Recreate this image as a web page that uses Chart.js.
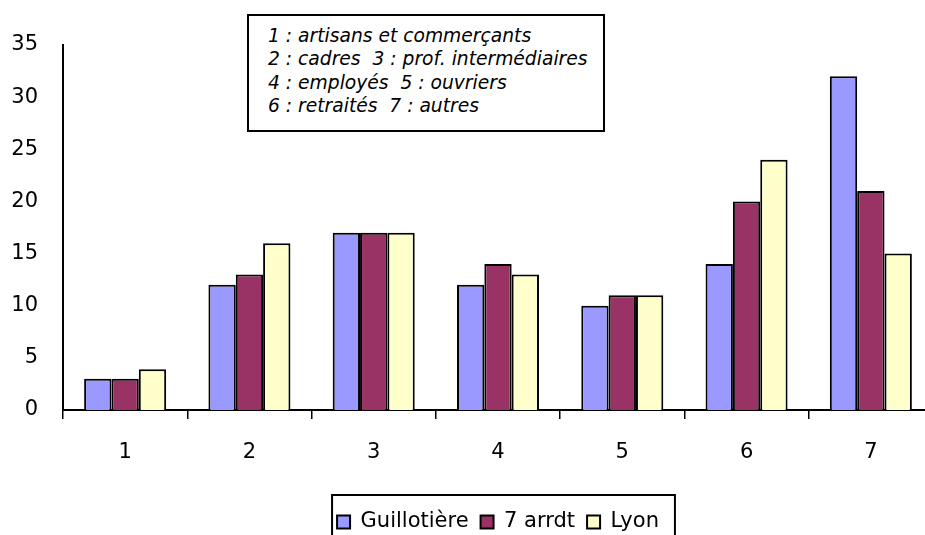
<!DOCTYPE html>
<html lang="fr">
<head>
<meta charset="utf-8">
<title>Catégories socio-professionnelles</title>
<script src="https://cdn.jsdelivr.net/npm/chart.js@4.4.1/dist/chart.umd.min.js"></script>
<style>
  html, body { margin: 0; padding: 0; background: #fff; }
  #cadre { position: relative; width: 925px; height: 535px; overflow: hidden; }
  #graphique { position: absolute; left: 0; top: 0; }
  #note {
    position: absolute; left: 247px; top: 14px; width: 358px; height: 118px;
    box-sizing: border-box; border: 2px solid #000; background: #fff;
    padding: 8.2px 0 0 19px;
    font: italic 18.7px "DejaVu Sans", sans-serif; line-height: 23.3px;
    white-space: pre; color: #000;
  }
</style>
</head>
<body>
<div id="cadre">
  <canvas id="graphique" width="935" height="545"></canvas>
  <div id="note"></div>
</div>
<script>
// ===== DONNÉES =====
const categories = ['1', '2', '3', '4', '5', '6', '7'];
const guillotiere = [3, 12, 17, 12, 10, 14, 32];
const septiemeArrdt = [3, 13, 17, 14, 11, 20, 21];
const lyon = [3.9, 16, 17, 13, 11, 24, 15];
const seriesNoms = ['Guillotière', '7 arrdt', 'Lyon'];
const lignesNote = [
  '1 : artisans et commerçants',
  '2 : cadres  3 : prof. intermédiaires',
  '4 : employés  5 : ouvriers',
  '6 : retraités  7 : autres'
];

// ===== STYLES =====
const COULEURS = ['#9999FF', '#993366', '#FFFFCC'];
const POLICE = '"DejaVu Sans", sans-serif';

document.getElementById('note').textContent = lignesNote.join('\n');

// cadre noir autour de la légende (comme dans Excel)
const cadreLegende = {
  id: 'cadreLegende',
  afterDraw(chart) {
    const leg = chart.legend;
    const boites = leg.legendHitBoxes;
    if (!boites || !boites.length) return;
    const premiere = boites[0];
    const derniere = boites[boites.length - 1];
    const x0 = premiere.left - 5;
    const x1 = derniere.left + derniere.width + 16;
    const y0 = leg.top - 4.5;
    const ctx = chart.ctx;
    ctx.save();
    ctx.strokeStyle = '#000';
    ctx.lineWidth = 2;
    ctx.strokeRect(x0, y0, x1 - x0, 80);
    ctx.restore();
  }
};

const series = [guillotiere, septiemeArrdt, lyon];

new Chart(document.getElementById('graphique').getContext('2d'), {
  type: 'bar',
  data: {
    labels: categories,
    datasets: series.map((valeurs, i) => ({
      label: seriesNoms[i],
      data: valeurs,
      backgroundColor: COULEURS[i],
      borderColor: '#000',
      borderWidth: 2,
      categoryPercentage: 0.66,
      barPercentage: 1
    }))
  },
  options: {
    responsive: false,
    animation: false,
    layout: { padding: { top: 45, right: 2, bottom: 2.5, left: 0 } },
    plugins: {
      tooltip: { enabled: false },
      legend: {
        position: 'bottom',
        fullSize: false,
        labels: {
          color: '#000',
          boxWidth: 13,
          boxHeight: 13,
          padding: 12,
          font: { family: POLICE, size: 21 }
        }
      }
    },
    scales: {
      x: {
        grid: {
          display: true,
          drawOnChartArea: false,
          drawTicks: true,
          tickLength: 9,
          offset: true,
          color: '#000',
          lineWidth: 1.5
        },
        border: { display: true, color: '#000', width: 2 },
        ticks: {
          color: '#000',
          padding: 21,
          maxRotation: 0,
          font: { family: POLICE, size: 21 }
        },
        afterFit: (echelle) => { echelle.height = 89.5; }
      },
      y: {
        min: 0,
        max: 35,
        grid: { display: false, drawTicks: false },
        border: { display: true, color: '#000', width: 2 },
        ticks: {
          stepSize: 5,
          color: '#000',
          padding: 25,
          font: { family: POLICE, size: 21 }
        },
        afterFit: (echelle) => { echelle.width = 63; }
      }
    }
  },
  plugins: [cadreLegende]
});
</script>
</body>
</html>
